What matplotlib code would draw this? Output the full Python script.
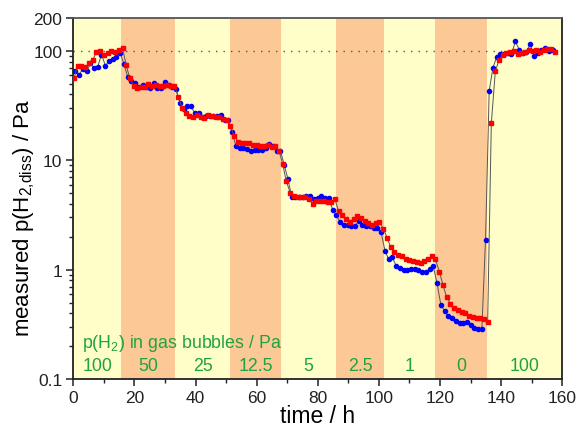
import matplotlib
matplotlib.use("Agg")
import matplotlib.pyplot as plt
import numpy as np
from matplotlib.ticker import LogLocator, MultipleLocator, NullFormatter

plt.rcParams['font.family'] = ['Liberation Sans', 'DejaVu Sans']

# sampling times (h), one point about every 1.22 h
hours = [0.2, 1.4, 2.6, 3.9, 5.1, 6.3, 7.5, 8.7, 10.0, 11.2, 12.4, 13.6, 14.8, 16.1,
         17.3, 18.5, 19.7, 20.9, 22.2, 23.4, 24.6, 25.8, 27.0, 28.3, 29.5, 30.7, 31.9, 33.1,
         34.4, 35.6, 36.8, 38.0, 39.2, 40.5, 41.7, 42.9, 44.1, 45.3, 46.6, 47.8, 49.0, 50.2,
         51.4, 52.7, 53.9, 55.1, 56.3, 57.5, 58.8, 60.0, 61.2, 62.4, 63.6, 64.9, 66.1, 67.3,
         68.5, 69.7, 71.0, 72.2, 73.4, 74.6, 75.8, 77.1, 78.3, 79.5, 80.7, 81.9, 83.2, 84.4, 85.6,
         86.8, 88.0, 89.3, 90.5, 91.7, 92.9, 94.1, 95.4, 96.6, 97.8, 99.0, 100.2,
         101.5, 102.7, 103.9, 105.1, 106.3, 107.6, 108.8, 110.0, 111.2, 112.4, 113.7, 114.9, 116.1, 117.3,
         118.5, 119.8, 121.0, 122.2, 123.4, 124.6, 125.9, 127.1, 128.3, 129.5, 130.7, 132.0, 133.2, 134.4, 135.6,
         136.8, 138.1, 139.3, 140.5, 141.7, 142.9, 144.2, 145.4, 146.6, 147.8, 149.0, 150.3, 151.5, 152.7,
         153.9, 155.1, 156.4, 157.6]

# second sensor samples a little later than the first one
hours_blue = [0.7, 1.9, 3.1, 4.4, 5.6, 6.8, 8.0, 9.2, 10.5, 11.7, 12.9, 14.1, 15.3, 16.6,
              17.8, 19.0, 20.2, 21.4, 22.7, 23.9, 25.1, 26.3, 27.5, 28.8, 30.0, 31.2, 32.4, 33.6,
              34.9, 36.1, 37.3, 38.5, 39.7, 41.0, 42.2, 43.4, 44.6, 45.8, 47.1, 48.3, 49.5, 50.7,
              51.9, 53.2, 54.4, 55.6, 56.8, 58.0, 59.3, 60.5, 61.7, 62.9, 64.1, 65.4, 66.6, 67.8,
              69.0, 70.2, 71.5, 72.7, 73.9, 75.1, 76.3, 77.6, 78.8, 80.0, 81.2, 82.4, 83.7, 84.9, 86.1,
              87.3, 88.5, 89.8, 91.0, 92.2, 93.4, 94.6, 95.9, 97.1, 98.3, 99.5, 100.7,
              102.0, 103.2, 104.4, 105.6, 106.8, 108.1, 109.3, 110.5, 111.7, 112.9, 114.2, 115.4, 116.6, 117.8,
              119.0, 120.3, 121.5, 122.7, 123.9, 125.1, 126.4, 127.6, 128.8, 130.0, 131.2, 132.5, 133.7, 134.9, 136.1,
              137.3, 138.6, 139.8, 141.0, 142.2, 143.4, 144.7, 145.9, 147.1, 148.3, 149.5, 150.8, 152.0, 153.2,
              154.4, 155.6, 156.9]

p_red = [56, 73, 73, 71, 77, 82, 97, 99, 92, 95, 99, 97, 103, 106,
         74, 56, 48, 45.7, 46.7, 46.7, 50, 48, 48.5, 47.3, 47.6, 48.5, 47.6, 47.6,
         38, 30, 27, 25.3, 24.8, 26.2, 24.8, 24.3, 26, 25.3, 24.8, 24.8, 23.9, 23.5,
         20.4, 16.7, 14.8, 14.4, 14.4, 14.3, 13.9, 13.8, 13.6, 13.6, 13.8, 13.3, 13.6, 12.2,
         9.3, 6.4, 5.05, 4.76, 4.65, 4.6, 4.6, 4.43, 4.0, 4.28, 4.25, 4.2, 4.14, 4.14, 4.43,
         3.42, 3.18, 2.91, 2.72, 2.91, 3.08, 2.95, 2.77, 2.66, 2.58, 2.68, 2.72,
         2.36, 1.95, 1.60, 1.46, 1.36, 1.33, 1.25, 1.23, 1.21, 1.18, 1.15, 1.21, 1.25, 1.34,
         1.24, 0.96, 0.72, 0.56, 0.49, 0.45, 0.43, 0.41, 0.40, 0.38, 0.367, 0.36, 0.36, 0.354, 0.334,
         21.8, 64.9, 82.4, 92, 96, 97.5, 98.8, 94, 95, 97.5, 103, 98.8, 103, 97.5, 102, 104.5, 104.5, 97.5]

p_blue = [66, 60.8, 68.5, 65, 77, 70, 72, 92.7, 73.5, 80.5, 84.7, 87.8, 95.5, 76,
          57.5, 53, 51, 46.7, 49.3, 46.7, 45.7, 51, 45.7, 45.7, 52.5, 48.5, 46.7, 44.4,
          33.5, 29.5, 31.3, 31.3, 27, 27, 24.8, 25.6, 25.3, 25.3, 25.3, 26, 23.5, 23.5,
          18.3, 13.5, 12.9, 12.9, 12.7, 12.2, 12.5, 12.5, 12.5, 12.9, 14.2, 13.5, 12.2, 12.2,
          9.1, 6.8, 4.6, 4.6, 4.6, 4.6, 4.76, 4.7, 4.43, 4.5, 4.7, 4.5, 4.5, 3.5, 3.18,
          2.72, 2.58, 2.58, 2.49, 2.49, 2.81, 2.56, 2.49, 2.49, 2.39, 2.39, 2.2,
          1.49, 1.24, 1.30, 1.09, 1.03, 1.0, 1.0, 1.01, 1.01, 1.0, 0.96, 0.96, 1.01, 1.07,
          0.76, 0.475, 0.42, 0.375, 0.36, 0.34, 0.325, 0.325, 0.33, 0.314, 0.29, 0.286, 0.286, 1.88, 43,
          69.7, 88.9, 94, 94, 96, 94, 122, 103, 96, 97.5, 115, 90.8, 95, 101, 107.4, 99.6, 103]

# gas bubble periods: edges in h and the p(H2) in the bubbles
band_edges = [0, 15.6, 33.3, 51.3, 67.9, 86.0, 101.6, 118.4, 135.4, 160]
band_labels = ['100', '50', '25', '12.5', '5', '2.5', '1', '0', '100']

yellow = '#FFFDC8'
orange = '#FBC896'
green = '#1FA33F'

fig = plt.figure(figsize=(5.82, 4.27), dpi=100)
ax = fig.add_axes([0.126, 0.110, 0.840, 0.8455])
ax.set_facecolor(yellow)

for i in range(len(band_labels)):
    if i % 2 == 1:
        ax.axvspan(band_edges[i], band_edges[i + 1], color=orange, lw=0, zorder=0)
    ax.text((band_edges[i] + band_edges[i + 1]) / 2, 0.132, band_labels[i],
            color=green, fontsize=12.8, ha='center', va='center')

ax.text(2.9, 0.215, 'p(H$_\\mathregular{2}$) in gas bubbles / Pa', color=green,
        fontsize=12.8, ha='left', va='center')

ax.axhline(100, color='#555555', lw=1.0, ls=(0, (1, 4.4)), zorder=1)

ax.plot(hours_blue, p_blue, color='#555555', lw=0.7, marker='o', ms=3,
        mfc='#0000FF', mec='#0000FF', zorder=3)
ax.plot(hours, p_red, color='#555555', lw=0.7, marker='s', ms=2.8,
        mfc='#FF0000', mec='#FF0000', zorder=4)

ax.set_yscale('log')
ax.set_ylim(0.1, 200)
ax.set_xlim(0, 160)
ax.set_yticks([0.1, 1, 10, 100, 200])
ax.set_yticklabels(['0.1', '1', '10', '100', '200'])
ax.yaxis.set_minor_locator(LogLocator(base=10, subs=np.arange(2, 10)))
ax.yaxis.set_minor_formatter(NullFormatter())
ax.set_xticks(np.arange(0, 161, 20))
ax.xaxis.set_minor_locator(MultipleLocator(10))

ax.tick_params(which='major', direction='out', length=5, width=1.1, labelsize=12.5,
               pad=3, colors='#222222')
ax.tick_params(which='minor', direction='out', length=3, width=1.0, colors='#222222')
for side in ['left', 'bottom', 'right']:
    ax.spines[side].set_linewidth(1.3)
    ax.spines[side].set_color('#222222')
ax.spines['top'].set_linewidth(1.3)
ax.spines['top'].set_color('#555555')

ax.set_xlabel('time / h', fontsize=16.5)
ax.xaxis.set_label_coords(0.5, -0.07)
fig.text(0.041, 0.489, 'measured p(H$_\\mathregular{2{,}diss}$) / Pa', fontsize=16,
         rotation=90, ha='center', va='center')

fig.savefig('out.png', dpi=100)
